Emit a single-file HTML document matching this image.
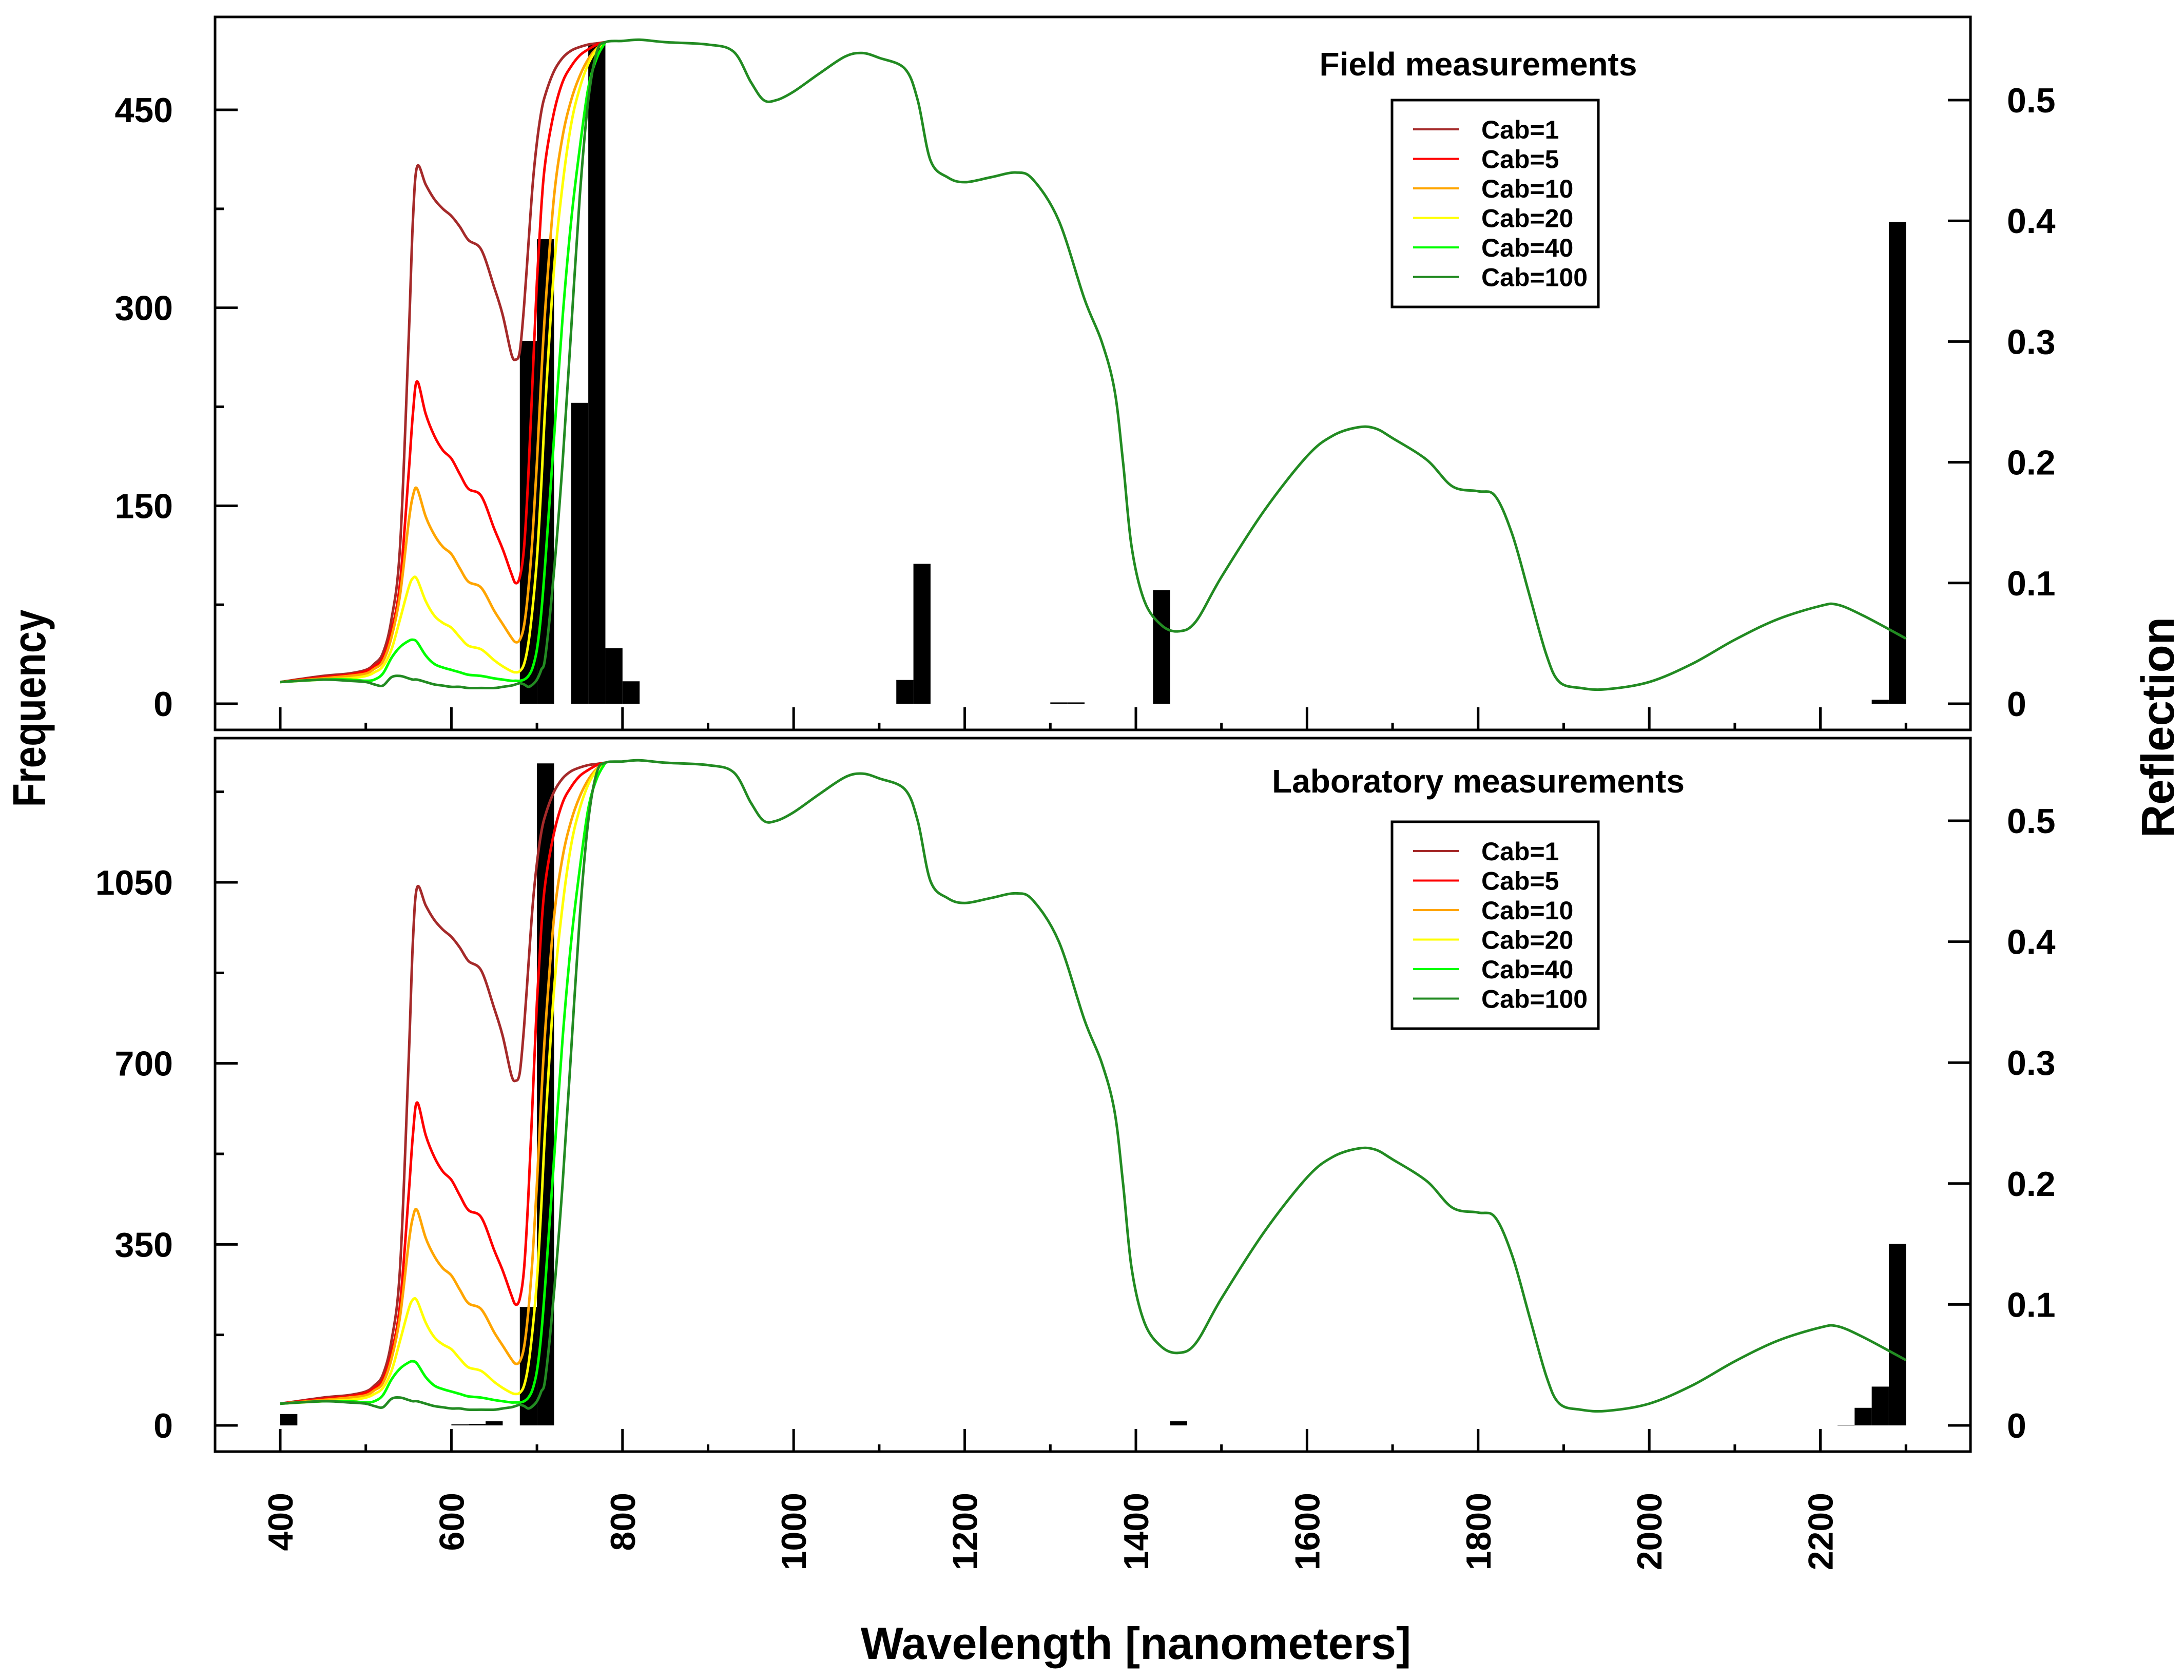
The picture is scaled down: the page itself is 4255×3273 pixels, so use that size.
<!DOCTYPE html>
<html><head><meta charset="utf-8"><style>html,body{margin:0;padding:0;background:#fff}svg{display:block}</style></head>
<body>
<svg id="chart" xmlns="http://www.w3.org/2000/svg" width="4255" height="3273" viewBox="0 0 4255 3273" font-family="'Liberation Sans', Arial, sans-serif">
<rect width="4255" height="3273" fill="#fff"/>
</svg>
<script>
const binStart = [400,420,440,460,480,500,520,540,560,580,600,620,640,660,680,700,720,740,760,780,800,820];
const fieldBins = [[680,275],[700,352],[740,228],[760,500],[780,42],[800,17],[1120,18],[1140,106],[1300,1],[1320,1],[1420,86],[2260,3],[2280,365]];
const labBins = [[400,22],[600,2],[620,3],[640,8],[680,229],[700,1280],[1440,8],[2220,1],[2240,34],[2260,75],[2280,351]];
const visWl = [400,450,480,500,510,520,530,540,550,555,560,570,580,590,600,610,620,635,650,660,670,675,680,685,690,695,700,705,710,720,730,740,750,760,770,780];
const cab1 = [.018,.023,.025,.028,.033,.042,.07,.13,.30,.40,.445,.43,.418,.41,.404,.395,.384,.376,.345,.322,.29,.285,.292,.33,.38,.43,.465,.49,.505,.524,.535,.541,.544,.546,.547,.548];
const cab5 = [.018,.022,.024,.027,.031,.038,.06,.10,.19,.24,.267,.24,.222,.21,.203,.19,.178,.172,.145,.128,.108,.10,.105,.13,.19,.27,.35,.41,.45,.49,.515,.528,.537,.542,.546,.548];
const cab10 = [.018,.021,.023,.025,.029,.035,.055,.09,.15,.172,.178,.155,.14,.13,.124,.112,.101,.096,.077,.066,.055,.051,.053,.065,.095,.14,.20,.27,.33,.42,.47,.50,.52,.534,.543,.548];
const cab20 = [.018,.020,.021,.023,.026,.031,.045,.07,.096,.104,.103,.085,.073,.067,.063,.055,.048,.045,.036,.031,.027,.026,.027,.033,.05,.08,.12,.18,.25,.36,.43,.48,.51,.53,.542,.548];
const cab40 = [.018,.020,.020,.019,.020,.025,.038,.047,.052,.053,.051,.04,.033,.03,.028,.026,.024,.023,.021,.02,.019,.019,.019,.02,.023,.03,.045,.075,.12,.22,.32,.40,.46,.51,.535,.548];
const cab100 = [.018,.020,.019,.018,.016,.015,.022,.023,.021,.02,.02,.018,.016,.015,.014,.014,.013,.013,.013,.014,.015,.016,.017,.016,.014,.016,.02,.028,.04,.11,.20,.31,.42,.50,.54,.548];
const nirWl = [800,820,850,900,930,950,965,980,1000,1030,1060,1080,1100,1130,1145,1160,1180,1200,1230,1260,1280,1310,1340,1360,1375,1385,1395,1410,1430,1450,1470,1500,1550,1600,1630,1660,1680,1700,1740,1770,1800,1820,1840,1860,1880,1895,1920,1950,2000,2050,2100,2150,2200,2220,2250,2300];
const nirRefl = [.549,.55,.548,.546,.54,.515,.50,.50,.507,.522,.536,.539,.535,.526,.50,.45,.436,.432,.436,.44,.434,.40,.335,.30,.26,.20,.13,.085,.065,.06,.068,.105,.16,.205,.222,.229,.228,.22,.202,.18,.176,.172,.14,.09,.04,.018,.013,.012,.018,.033,.053,.07,.081,.082,.073,.054];
const seriesNames = ['Cab=1','Cab=5','Cab=10','Cab=20','Cab=40','Cab=100'];
const seriesColors = ['#a52a2a','#ff0000','#ffa500','#ffff00','#00ff00','#228b22'];
const xTicks = [400,600,800,1000,1200,1400,1600,1800,2000,2200];
const xMinor = [500,700,900,1100,1300,1500,1700,1900,2100,2300];
const reflTicks = [0,0.1,0.2,0.3,0.4,0.5];
const fieldTicks = [0,150,300,450];
const fieldMinor = [75,225,375];
const labTicks = [0,350,700,1050];
const labMinor = [175,525,875,1225];

const NS='http://www.w3.org/2000/svg';
const svg=document.getElementById('chart');
function mk(tag,attrs,parent){const e=document.createElementNS(NS,tag);for(const k in attrs)e.setAttribute(k,attrs[k]);(parent||svg).appendChild(e);return e;}
const xS=wl=>546+(wl-400)*1.667;
const L=419,R=3839;
const panels=[
 {name:'field',top:33,bot:1422,y0:1371,fy:v=>1371-v*(1371-214)/450,ry:v=>1371-v*2352,bins:fieldBins,ticks:fieldTicks,minor:fieldMinor,title:'Field measurements',titleY:147,legTop:195},
 {name:'lab',top:1438,bot:2828,y0:2777,fy:v=>2777-v*(2777-1719)/1050,ry:v=>2777-v*2356,bins:labBins,ticks:labTicks,minor:labMinor,title:'Laboratory measurements',titleY:1544,legTop:1601}
];
const allSeries=[cab1,cab5,cab10,cab20,cab40,cab100];
function smooth(pts){let d='M'+pts[0][0].toFixed(1)+','+pts[0][1].toFixed(1);
 for(let i=0;i<pts.length-1;i++){const p0=pts[i-1]||pts[i],p1=pts[i],p2=pts[i+1],p3=pts[i+2]||p2;
  const c1=[p1[0]+(p2[0]-p0[0])/6,p1[1]+(p2[1]-p0[1])/6],c2=[p2[0]-(p3[0]-p1[0])/6,p2[1]-(p3[1]-p1[1])/6];
  d+='C'+c1[0].toFixed(1)+','+c1[1].toFixed(1)+' '+c2[0].toFixed(1)+','+c2[1].toFixed(1)+' '+p2[0].toFixed(1)+','+p2[1].toFixed(1);}
 return d;}
panels.forEach(p=>{
 const g=mk('g',{});
 
 
 p.bins.forEach(b=>{
  const r=mk('rect',{x:xS(b[0]),y:p.fy(b[1]),width:xS(b[0]+20)-xS(b[0]),height:p.y0-p.fy(b[1]),fill:'#000'},g);
  
  
 });
 allSeries.forEach((s,i)=>{
  const pts=visWl.map((w,j)=>[xS(w),p.ry(s[j])]);
  nirWl.forEach((w,j)=>{if(i===5)pts.push([xS(w),p.ry(nirRefl[j])]);});
  const path=mk('path',{d:smooth(pts),fill:'none',stroke:seriesColors[i],'stroke-width':5,'stroke-linejoin':'round'},g);
  
  
 });
 const fr=mk('rect',{x:L,y:p.top,width:R-L,height:p.bot-p.top,fill:'none',stroke:'#000','stroke-width':5},g);
 
 
 p.ticks.forEach(t=>{
  mk('line',{x1:L,x2:L+44,y1:p.fy(t),y2:p.fy(t),stroke:'#000','stroke-width':5},g);
  const tx=mk('text',{x:337,y:p.fy(t)+24,'text-anchor':'end','font-size':68,'font-weight':'bold'},g);
  tx.textContent=t;
  
  
 });
 p.minor.forEach(t=>mk('line',{x1:L,x2:L+17,y1:p.fy(t),y2:p.fy(t),stroke:'#000','stroke-width':5},g));
 reflTicks.forEach(t=>{
  mk('line',{x1:R-44,x2:R,y1:p.ry(t),y2:p.ry(t),stroke:'#000','stroke-width':5},g);
  const tx=mk('text',{x:3910,y:p.ry(t)+24,'font-size':68,'font-weight':'bold'},g);
  tx.textContent=t;
  
  
 });
 xTicks.forEach(t=>mk('line',{x1:xS(t),x2:xS(t),y1:p.bot,y2:p.bot-44,stroke:'#000','stroke-width':5},g));
 xMinor.forEach(t=>mk('line',{x1:xS(t),x2:xS(t),y1:p.bot,y2:p.bot-14,stroke:'#000','stroke-width':5},g));
 const tt=mk('text',{x:2880,y:p.titleY,'text-anchor':'middle','font-size':64,'font-weight':'bold'},g);
 tt.textContent=p.title;
 
 
 const lg=mk('g',{},g);
 
 
 mk('rect',{x:2712,y:p.legTop,width:402,height:403,fill:'#fff',stroke:'#000','stroke-width':5},lg);
 seriesNames.forEach((n,i)=>{
  const y=p.legTop+57+i*57.5;
  const e=mk('g',{},lg);
  
  
  mk('line',{x1:2753,x2:2843,y1:y,y2:y,stroke:seriesColors[i],'stroke-width':4},e);
  const t=mk('text',{x:2886,y:y+18,'font-size':50,'font-weight':'bold'},e);
  t.textContent=n;
 });
});
xTicks.forEach(t=>{
 const tx=mk('text',{x:0,y:0,'text-anchor':'end','font-size':68,'font-weight':'bold',transform:'translate('+(xS(t)+24)+',2908) rotate(-90)'});
 tx.textContent=t;
 
 
});
const xt=mk('text',{x:2213,y:3232,'text-anchor':'middle','font-size':88,'font-weight':'bold'});
xt.textContent='Wavelength [nanometers]';


const yl=mk('text',{x:0,y:0,'text-anchor':'middle','font-size':90,'font-weight':'bold',textLength:385,lengthAdjust:'spacingAndGlyphs',transform:'translate(88,1380) rotate(-90)'});
yl.textContent='Frequency';


const yr=mk('text',{x:0,y:0,'text-anchor':'middle','font-size':90,'font-weight':'bold',textLength:430,lengthAdjust:'spacingAndGlyphs',transform:'translate(4235,1417) rotate(-90)'});
yr.textContent='Reflection';


</script>
</body></html>
